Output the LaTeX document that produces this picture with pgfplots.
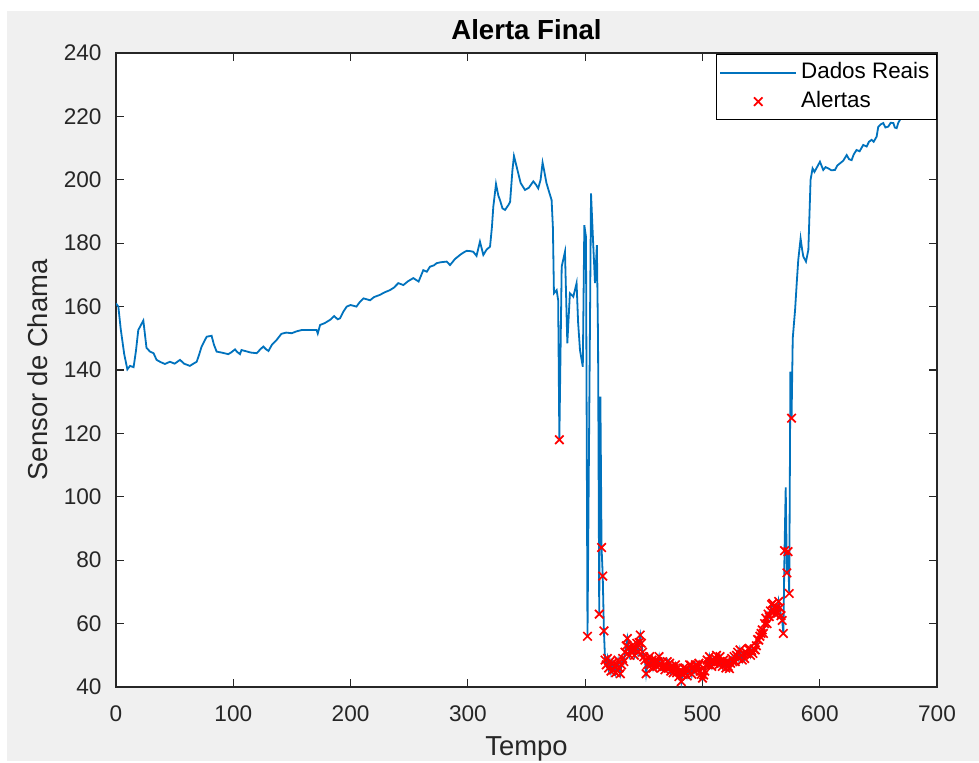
\documentclass[border=0pt]{standalone}
\usepackage{pgfplots}
\pgfplotsset{compat=1.18}
\usepackage{pgfplotstable}
\usepackage{fontspec}
\setmainfont{Liberation Sans}
\definecolor{matblue}{rgb}{0,0.447,0.741}
\definecolor{figgray}{HTML}{F0F0F0}
\pgfplotsset{
  lineleg/.style={legend image code/.code={\draw[##1, line width=0.9pt] (2pt,0pt) -- (40pt,0pt);}},
  markleg/.style={legend image code/.code={\draw[mark repeat=2,mark phase=2,##1] plot coordinates {(2pt,0pt) (21pt,0pt) (40pt,0pt)};}},
}

\pgfplotstableread{
x y
0 161
2 160
4 153
7 145
9.7 140.2
12 141.3
15 140.9
17 146
19 152.6
21 154
23.3 155.6
26 147
29 145.8
32 145.3
34.6 143.2
38 142.5
41.7 141.9
46 142.6
50 142
54.6 143.2
58 142
63 141.3
66 142
68.8 142.6
71 145
73 147.4
77.3 150.5
81.5 150.8
83.5 148
85.8 145.8
90 145.5
95.7 145
98 145.5
101.5 146.5
103 145.8
105.7 145
107 146.3
110 146
115 145.5
120 145.3
123 146.5
125.6 147.4
128 146.5
130 146
133 148
137 149.5
141 151.4
145 151.8
149.8 151.6
154 152.2
158.3 152.6
165 152.6
171 152.6
172 151.5
174 154.2
178 154.8
182.5 155.8
186 157
189 156
191 156.3
194 158.5
196.7 160
200 160.5
205 160
208 161.5
211 162.6
216.6 162
220 163
225 163.7
229 164.5
233.6 165.2
237 166
240.7 167.4
245 166.8
249 168
253.5 169
258 167.9
262 171.5
265 171
267.7 172.6
271 173
273.4 173.7
277 174
282 174.2
284.8 173.1
289 175
293.3 176.3
296 177
299 177.6
302 177.5
304.6 177.3
307.4 176
310.3 180.5
313.2 176.3
316 178
318.9 178.9
320.5 185
321.7 191.5
324 198.7
326 195
327.4 193.6
329.5 191
331.7 190.5
334.5 192
336 193
338 203
339.3 207.5
341 205
343 202
345 199
348.7 196.8
352 197.5
355.8 199.5
358 198.5
360 197.3
362 200
363.7 205.4
365 203
367 199
369 196.5
371.4 193.6
372.5 185
373.4 164.2
375.7 165.2
377 162
378 118
380 172.6
382.8 177.3
384.8 148.4
387 164.2
389.9 163.1
392.7 167.4
394 155
395.6 146.3
398 141
399.3 185.7
400.7 182
402 56
405 195.7
406.6 182
408.4 167.4
410 179.4
411 149.5
412 63
413 131.6
414 84
415 75
416 57.7
417 48.5
418 47
419 49
420 46
421 48
422 45
423 47.5
424 45.4
425 46.5
426 44.5
427 47
428 48.5
429 46
430 44.2
431 47
432 49
433 48
434 51
435 53
436 55.3
437 52.5
438 50
439 51.5
440 53
441 51.7
442 50
443 52
444 53.8
445 51
446 54
447 56.4
448 53.8
449 51
450 49.5
451 48.5
452 44.2
453 47
454 49
455 49.6
456 47
457 48.5
458 46
459 47.5
460 48.5
461 46.5
462 48
463 49.6
464 47
465 46
466 48
467 46.5
468 45.4
469 46.5
470 48
471 46
472 47.5
473 45
474 46.5
475 44.5
476 45.8
477 47
478 44.5
479 46
480 43.3
481 44.5
482 41.7
483 44
484 46
485 44.5
486 45.8
487 43.5
488 45
489 47
490 46.9
491 44
492 46
493 45
494 47
495 45.8
496 46.5
497 47.5
498 45
499 44
500 42.8
501 43.8
502 45
503 47
504 48.5
505 47
506 49.6
507 48
508 46.5
509 48.5
510 47.5
511 49
512 50
513 48
514 47
515 49.6
516 48
517 46.5
518 48.5
519 47.5
520 46
521 48
522 46.5
523 45.8
524 47.5
525 49
526 48
527 49.6
528 48
529 50
530 51
531 49
532 51.7
533 50
534 48.5
535 50.5
536 49
537 51
538 50.5
539 52
540 52.2
541 50
542 51.5
543 50.6
544 52
545 51.7
546 53
547 55
548 54.8
549 56
550 56.9
551 58
552 56.9
553 60
554 61.7
555 60
556 63
557 62.2
558 64
559 66
560 66.4
561 64
562 63
563 65
564 63.2
565 67
566 65
567 62.5
568 61
569 56.9
570 83
571 103
572 76
573 82.7
574 69.5
575 139.5
576 124.8
577 150
579 159
580.5 168
581.7 174.7
583.7 181.5
585 178
586 175.8
588.3 174.2
590.3 177.9
592.2 200
593.9 203.6
595.5 202.5
597 203.5
600.2 205.7
603 203.1
605 204
607.3 203.6
610 203
613 203.1
615 204.5
617.3 205.2
620 206
623 207.8
625 206.5
627.2 206.2
629 208
631.4 209.4
634 209
637.1 211
640 210.5
642 212
644.2 212.6
646 212
648.5 213.6
649.9 216.7
652 217.5
654.2 217.9
656 216.5
658.5 216.8
660.5 218
662.8 217.9
664 216.5
665.6 216.3
667 218
668.4 218.9
669.8 220.5
671 221
}\dadosreais

\pgfplotstableread{
x y
378 118
402 56
412 63
414 84
415 75
416 57.7
417 48.5
418 47
419 49
420 46
421 48
422 45
423 47.5
424 45.4
425 46.5
426 44.5
427 47
428 48.5
429 46
430 44.2
431 47
432 49
433 48
434 51
435 53
436 55.3
437 52.5
438 50
439 51.5
440 53
441 51.7
442 50
443 52
444 53.8
445 51
446 54
447 56.4
448 53.8
449 51
450 49.5
451 48.5
452 44.2
453 47
454 49
455 49.6
456 47
457 48.5
458 46
459 47.5
460 48.5
461 46.5
462 48
463 49.6
464 47
465 46
466 48
467 46.5
468 45.4
469 46.5
470 48
471 46
472 47.5
473 45
474 46.5
475 44.5
476 45.8
477 47
478 44.5
479 46
480 43.3
481 44.5
482 41.7
483 44
484 46
485 44.5
486 45.8
487 43.5
488 45
489 47
490 46.9
491 44
492 46
493 45
494 47
495 45.8
496 46.5
497 47.5
498 45
499 44
500 42.8
501 43.8
502 45
503 47
504 48.5
505 47
506 49.6
507 48
508 46.5
509 48.5
510 47.5
511 49
512 50
513 48
514 47
515 49.6
516 48
517 46.5
518 48.5
519 47.5
520 46
521 48
522 46.5
523 45.8
524 47.5
525 49
526 48
527 49.6
528 48
529 50
530 51
531 49
532 51.7
533 50
534 48.5
535 50.5
536 49
537 51
538 50.5
539 52
540 52.2
541 50
542 51.5
543 50.6
544 52
545 51.7
546 53
547 55
548 54.8
549 56
550 56.9
551 58
552 56.9
553 60
554 61.7
555 60
556 63
557 62.2
558 64
559 66
560 66.4
561 64
562 63
563 65
564 63.2
565 67
566 65
567 62.5
568 61
569 56.9
570 83
572 76
573 82.7
574 69.5
576 124.8
}\alertas

\begin{document}
\begin{tikzpicture}
\fill[white] (0pt,0pt) rectangle (489.5pt,381pt);
\fill[figgray] (3.5pt,0.5pt) rectangle (489.5pt,375.5pt);
\begin{scope}
\clip (0pt,0pt) rectangle (489.5pt,381pt);
\begin{axis}[
  at={(58pt,37.5pt)}, anchor=south west,
  scale only axis, width=410.5pt, height=317pt,
  xmin=0, xmax=700, ymin=40, ymax=240,
  xtick={0,100,...,700}, ytick={40,60,...,240},
  tick align=inside, tick pos=both,
  xticklabel pos=lower, yticklabel pos=left,
  major tick length=4pt,
  axis line style={black!85, line width=0.6pt},
  every tick/.style={black!85, line width=0.6pt},
  axis background/.style={fill=white},
  /pgf/number format/assume math mode=true,
  tick label style={font=\fontsize{11.3}{13}\selectfont, text=black!85},
  xticklabel style={yshift=-6pt},
  yticklabel style={xshift=-3.7pt},
  title={Alerta Final},
  title style={at={(axis description cs:0.5,1)}, anchor=base, yshift=0.5pt, font=\bfseries\fontsize{13.8}{15}\selectfont},
  xlabel={Tempo},
  xlabel style={at={(axis description cs:0.5,0)}, anchor=base, yshift=-34.2pt, font=\fontsize{13.7}{15}\selectfont, text=black!85},
  ylabel={Sensor de Chama},
  ylabel style={at={(axis description cs:0,0.5)}, anchor=center, yshift=39.25pt, font=\fontsize{13.7}{15}\selectfont, text=black!85},
  legend cell align=left,
  legend style={at={(1,1)}, anchor=north east, yshift=-0.5pt, draw=black, line width=0.6pt, fill=white,
    font=\fontsize{11.2}{13}\selectfont, inner xsep=1.5pt, inner ysep=1.75pt, row sep=0pt,
    nodes={inner sep=2pt, text height=8pt, text depth=2.5pt}},
]
\addplot[matblue, line width=0.9pt, no marks, lineleg] table[x=x,y=y] {\dadosreais};
\addlegendentry{Dados Reais}
\addplot[red, only marks, mark=x, mark size=3pt, mark options={line width=0.85pt}, markleg] table[x=x,y=y] {\alertas};
\addlegendentry{Alertas}
\end{axis}
\end{scope}
\pgfresetboundingbox
\useasboundingbox (0pt,0pt) rectangle (489.5pt,381pt);
\end{tikzpicture}
\end{document}
